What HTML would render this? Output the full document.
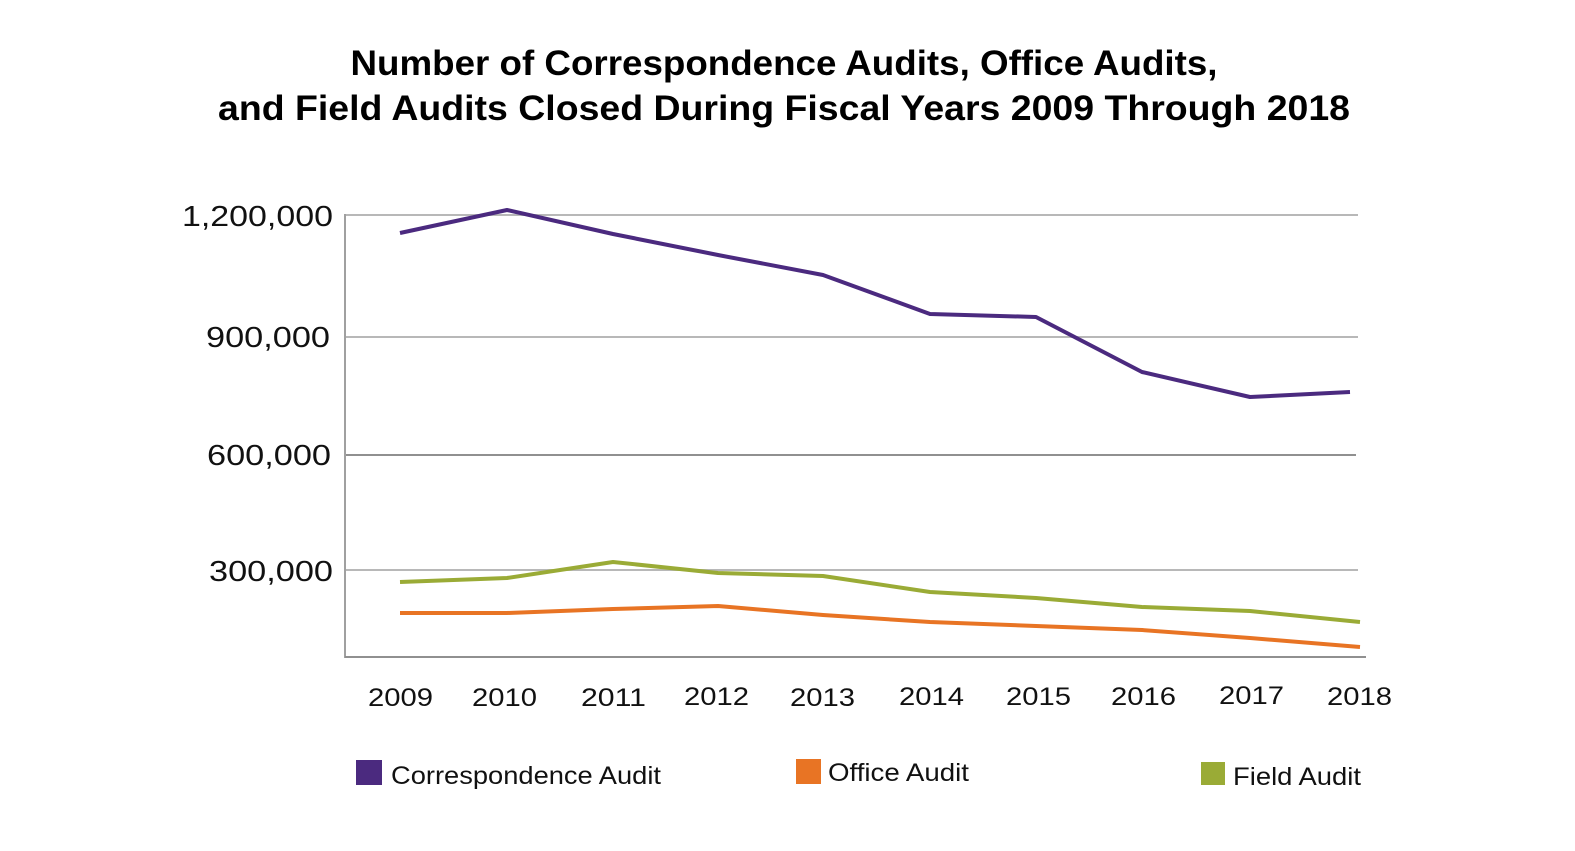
<!DOCTYPE html>
<html><head><meta charset="utf-8"><style>
html,body{margin:0;padding:0;background:#fff;}
svg{display:block;}
</style></head><body>
<svg width="1575" height="851" viewBox="0 0 1575 851" xmlns="http://www.w3.org/2000/svg">
<rect width="1575" height="851" fill="#fff"/>
<g font-family="Liberation Sans, sans-serif" font-weight="bold" font-size="35" fill="#000" text-anchor="middle">
<text x="784" y="75" textLength="867" lengthAdjust="spacingAndGlyphs">Number of Correspondence Audits, Office Audits,</text>
<text x="784" y="120" textLength="1132" lengthAdjust="spacingAndGlyphs">and Field Audits Closed During Fiscal Years 2009 Through 2018</text>
</g>
<g stroke="#b8b8b8" stroke-width="2">
<line x1="345" y1="215" x2="1358" y2="215"/>
<line x1="345" y1="337" x2="1358" y2="337"/>
<line x1="345" y1="570" x2="1358" y2="570"/>
</g>
<line x1="345" y1="455" x2="1356" y2="455" stroke="#909090" stroke-width="2"/>
<line x1="345" y1="214" x2="345" y2="658" stroke="#a0a0a0" stroke-width="2"/>
<line x1="345" y1="657" x2="1366" y2="657" stroke="#909090" stroke-width="2"/>
<g font-family="Liberation Sans, sans-serif" font-size="29" fill="#111">
<text x="182" y="226" textLength="151" lengthAdjust="spacingAndGlyphs">1,200,000</text>
<text x="206" y="347" textLength="124" lengthAdjust="spacingAndGlyphs">900,000</text>
<text x="207" y="465" textLength="124" lengthAdjust="spacingAndGlyphs">600,000</text>
<text x="209" y="581" textLength="124" lengthAdjust="spacingAndGlyphs">300,000</text>
</g>
<g font-family="Liberation Sans, sans-serif" font-size="25" fill="#111">
<text x="368" y="706" textLength="65" lengthAdjust="spacingAndGlyphs">2009</text>
<text x="472" y="706" textLength="65" lengthAdjust="spacingAndGlyphs">2010</text>
<text x="581" y="706" textLength="65" lengthAdjust="spacingAndGlyphs">2011</text>
<text x="684" y="705" textLength="65" lengthAdjust="spacingAndGlyphs">2012</text>
<text x="790" y="706" textLength="65" lengthAdjust="spacingAndGlyphs">2013</text>
<text x="899" y="705" textLength="65" lengthAdjust="spacingAndGlyphs">2014</text>
<text x="1006" y="705" textLength="65" lengthAdjust="spacingAndGlyphs">2015</text>
<text x="1111" y="705" textLength="65" lengthAdjust="spacingAndGlyphs">2016</text>
<text x="1219" y="704" textLength="65" lengthAdjust="spacingAndGlyphs">2017</text>
<text x="1327" y="705" textLength="65" lengthAdjust="spacingAndGlyphs">2018</text>
</g>
<g fill="none" stroke-width="4" stroke-linejoin="round">
<polyline stroke="#4b2a7f" points="400,233 507,210 613,234 718,255 823,275 930,314 1036,317 1142,372 1250,397 1350,392"/>
<polyline stroke="#9aab36" points="400,582 507,578 613,562 718,573 823,576 930,592 1036,598 1142,607 1250,611 1360,622"/>
<polyline stroke="#e87424" points="400,613 507,613 613,609 718,606 823,615 930,622 1036,626 1142,630 1250,638 1360,647"/>
</g>
<rect x="356" y="760" width="26" height="25" fill="#4b2a7f"/>
<rect x="796" y="759" width="25" height="25" fill="#e87424"/>
<rect x="1201" y="762" width="24" height="23" fill="#9aab36"/>
<g font-family="Liberation Sans, sans-serif" font-size="25" fill="#111">
<text x="391" y="784" textLength="270" lengthAdjust="spacingAndGlyphs">Correspondence Audit</text>
<text x="828" y="781" textLength="141" lengthAdjust="spacingAndGlyphs">Office Audit</text>
<text x="1233" y="785" textLength="128" lengthAdjust="spacingAndGlyphs">Field Audit</text>
</g>
</svg>
</body></html>
